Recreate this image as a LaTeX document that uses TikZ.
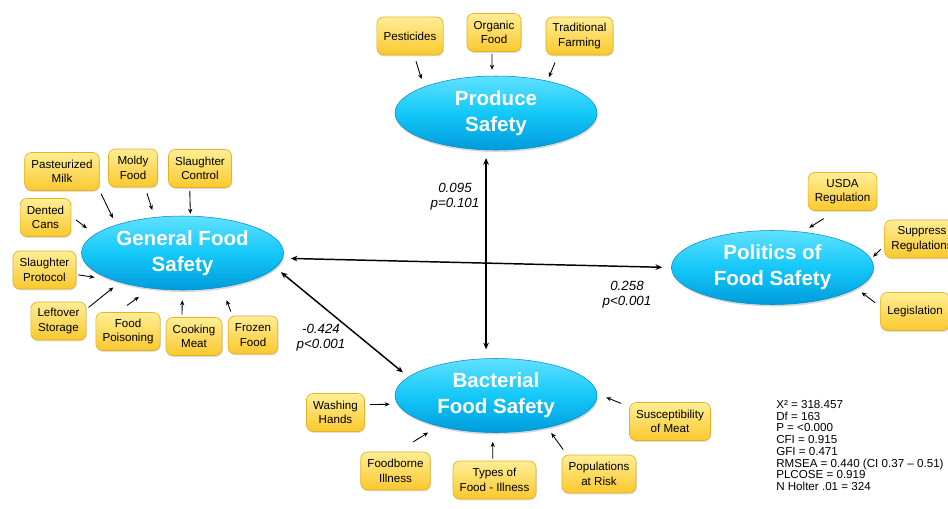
\documentclass[tikz,border=0pt]{standalone}
\usepackage{fontspec}
\setmainfont{Liberation Sans}
\usetikzlibrary{arrows.meta,shapes.geometric,shadows,positioning}

\definecolor{boxtop}{RGB}{255,238,150}
\definecolor{boxbot}{RGB}{250,200,45}
\definecolor{boxline}{RGB}{228,178,36}
\definecolor{elltop}{RGB}{95,225,255}
\definecolor{ellmid}{RGB}{20,200,248}
\definecolor{ellbot}{RGB}{0,155,220}
\definecolor{ellline}{RGB}{0,140,200}

\begin{document}
\begin{tikzpicture}[
    x=0.75pt, y=-0.75pt,
    factor/.style={
        ellipse,
        draw=ellline,
        line width=0.4pt,
        top color=elltop,
        bottom color=ellbot,
        middle color=ellmid,
        minimum width=151.5pt,
        minimum height=55.5pt,
        inner sep=0pt,
        align=center,
        text=white,
        font=\fontsize{15.4}{19.3}\selectfont\bfseries,
        drop shadow={shadow xshift=0.6pt, shadow yshift=-1.5pt, fill=black!30}
    },
    item/.style={
        rectangle,
        rounded corners=5pt,
        draw=boxline,
        line width=0.5pt,
        top color=boxtop,
        bottom color=boxbot,
        minimum width=36.75pt,
        minimum height=28.5pt,
        inner xsep=5pt,
        inner ysep=2pt,
        align=center,
        font=\fontsize{8.7}{10.8}\selectfont,
        drop shadow={shadow xshift=0.6pt, shadow yshift=-1pt, fill=black!25}
    },
    feed/.style={-{Stealth[length=3.8pt,width=3.2pt]}, line width=0.65pt},
    link/.style={{Stealth[length=5pt,width=4.2pt]}-{Stealth[length=5pt,width=4.2pt]}, line width=1.1pt},
    coef/.style={align=center, font=\fontsize{10}{11.3}\selectfont\itshape}
]
\useasboundingbox (0,0) rectangle (948,508);
\clip (0,0) rectangle (948,508);

% ---------------- Factors ----------------
\node[factor] (prod) at (496,113)     {Produce\\Safety};
\node[factor] (gfs)  at (182.5,253)   {General Food\\Safety};
\node[factor] (pol)  at (772.5,267.5) {Politics of\\Food Safety};
\node[factor] (bact) at (496,395.5)   {Bacterial\\Food Safety};

% ---------------- Produce items ----------------
\node[item] (pest)  at (410,36)    {Pesticides};
\node[item] (orgf)  at (494,32.5)  {Organic\\Food};
\node[item] (tfarm) at (579.5,36)  {Traditional\\Farming};

% ---------------- General items ----------------
\node[item] (pmilk) at (62,171.5)  {Pasteurized\\Milk};
\node[item] (moldy) at (133,168)   {Moldy\\Food};
\node[item] (sctrl) at (200,168.5) {Slaughter\\Control};
\node[item] (dcans) at (45.5,217.5){Dented\\Cans};
\node[item] (sprot) at (44.5,270)  {Slaughter\\Protocol};
\node[item] (lstor) at (58.5,321)  {Leftover\\Storage};
\node[item] (fpois) at (128,331.5) {Food\\Poisoning};
\node[item] (cmeat) at (194,336.5) {Cooking\\Meat};
\node[item] (ffood) at (253,335)   {Frozen\\Food};

% ---------------- Politics items ----------------
\node[item] (usda)  at (842.5,191.5) {USDA\\Regulation};
\node[item] (supp)  at (922,239)     {Suppress\\Regulations};
\node[item] (legis) at (915,311.5)   {Legislation};

% ---------------- Bacterial items ----------------
\node[item] (wash)  at (335.5,412.5) {Washing\\Hands};
\node[item] (fbill) at (395.5,471)   {Foodborne\\Illness};
\node[item] (types) at (494.5,480)   {Types of\\Food - Illness};
\node[item] (popr)  at (599,474)     {Populations\\at Risk};
\node[item] (susc)  at (670,421.5)   {Susceptibility\\of Meat};

% ---------------- Item arrows ----------------
\draw[feed, shorten <=4.7pt, shorten >=6pt]   (pest.-78)   -- (prod.160);
\draw[feed, shorten <=1.5pt, shorten >=4.5pt] (orgf.-96)   -- (prod.96);
\draw[feed, shorten <=5.8pt, shorten >=3pt]   (tfarm.-138) -- (prod.32);

\draw[feed, shorten <=2.6pt, shorten >=5.6pt]  (pmilk.-27)  -- (gfs.157);
\draw[feed, shorten <=4.7pt, shorten >=5.6pt]  (moldy.-58)  -- (gfs.128);
\draw[feed, shorten <=2.2pt, shorten >=1.5pt]  (sctrl.-118) -- (gfs.78);
\draw[feed, shorten <=4.6pt, shorten >=7.5pt]  (dcans.3)    -- (gfs.168);
\draw[feed, shorten <=1.5pt, shorten >=15pt]   (sprot.-8)   -- (gfs.202);
\draw[feed, shorten <=2pt,   shorten >=6.2pt]  (lstor.23)   -- (gfs.205);
\draw[feed, shorten <=8.6pt, shorten >=10.9pt] (fpois.118)  -- (gfs.228);
\draw[feed, shorten <=1.9pt, shorten >=7.5pt]  (cmeat.122)  -- (gfs.270);
\draw[feed, shorten <=3.3pt, shorten >=10.2pt] (ffood.137)  -- (gfs.-41);

\draw[feed, shorten <=11pt,  shorten >=6pt]   (usda.-108) -- (pol.50);
\draw[feed, shorten <=3.9pt, shorten >=2.2pt] (supp.190)  -- (pol.5);
\draw[feed, shorten <=4.9pt, shorten >=4.9pt] (legis.172) -- (pol.-14);

\draw[feed, shorten <=3.8pt,  shorten >=5.8pt] (wash.15)   -- (bact.185);
\draw[feed, shorten <=13.9pt, shorten >=9pt]   (fbill.84)  -- (bact.208);
\draw[feed, shorten <=1.5pt,  shorten >=6.8pt] (types.95)  -- (bact.265);
\draw[feed, shorten <=4.6pt,  shorten >=4.9pt] (popr.149)  -- (bact.-32);
\draw[feed, shorten <=6.5pt,  shorten >=7.3pt] (susc.160)  -- (bact.1);

% ---------------- Factor links ----------------
\draw[link, shorten <=6pt, shorten >=6.8pt]   (prod.255) -- (bact.105);
\draw[link, shorten <=6pt, shorten >=6.8pt]   (gfs.-3)   -- (pol.180);
\draw[link, shorten <=5.2pt, shorten >=5.2pt] (gfs.-9)   -- (bact.168);

\node[coef] (cpb) at (455,197) {0.095\\p=0.101};
\node[coef] (cgp) at (627,295) {0.258\\p<0.001};
\node[coef] (cgb) at (321,338) {-0.424\\p<0.001};

% ---------------- Fit statistics ----------------
\node[anchor=north west, inner sep=0pt, align=left,
      font=\fontsize{8.7}{8.8}\selectfont] (fit) at (776,400)
    {X² = 318.457\\Df = 163\\P = <0.000\\CFI = 0.915\\GFI = 0.471\\
     RMSEA = 0.440 (CI 0.37 – 0.51)\\PLCOSE = 0.919\\N Holter .01 = 324};
\end{tikzpicture}
\end{document}
